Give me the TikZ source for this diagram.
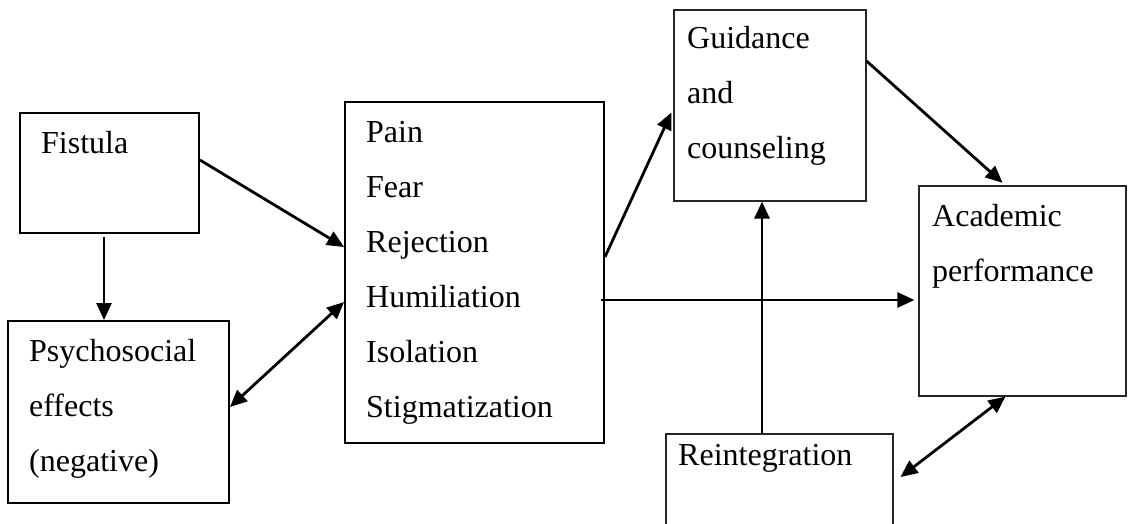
\documentclass[tikz,border=0pt]{standalone}
\usepackage{fontspec}
\setmainfont{Liberation Serif}
\usetikzlibrary{arrows.meta}
\tikzset{
	box/.style={draw=black, shape=rectangle, line width=1.9pt, inner sep=0pt},
	thinbox/.style={draw=black!85, shape=rectangle, line width=1.1pt, inner sep=0pt},
	txt/.style={text=black, anchor=base west, inner sep=0pt, align=left, font=\fontsize{32}{55}\selectfont},
	link/.style={line width=2.8pt, -{Triangle[length=17pt,width=15pt]}},
	twolink/.style={line width=2.8pt, {Triangle[length=17pt,width=15pt]}-{Triangle[length=17pt,width=15pt]}},
}
\begin{document}
\begin{tikzpicture}[x=1pt,y=-1pt]
	\clip (0,0) rectangle (1128,523);

	% boxes
	\node[box, minimum width=179pt, minimum height=120pt] (fistula) at (109.5,173) {};
	\node[box, minimum width=221pt, minimum height=182pt] (effects) at (118.5,412) {};
	\node[box, minimum width=259pt, minimum height=341pt] (feelings) at (474.5,272.5) {};
	\node[thinbox, minimum width=192pt, minimum height=191pt] (guidance) at (770,105.5) {};
	\node[thinbox, minimum width=207pt, minimum height=210pt] (academic) at (1022.5,291) {};
	\node[thinbox, minimum width=227pt, minimum height=106pt] (reinteg) at (779.5,487) {};

	% texts (placed at the baseline of their last line)
	\node[txt] (fistula_t) at (41,153) {Fistula};
	\node[txt] (effects_t) at (29,471) {Psychosocial\\effects\\(negative)};
	\node[txt] (feelings_t) at (366,417) {Pain\\Fear\\Rejection\\Humiliation\\Isolation\\Stigmatization};
	\node[txt] (guidance_t) at (687,158) {Guidance\\and\\counseling};
	\node[txt] (academic_t) at (932,281) {Academic\\performance};
	\node[txt] (reinteg_t) at (678,465) {Reintegration};

	% arrows
	\coordinate (h_start) at ([yshift=-27.5pt]feelings.east);
	\coordinate (v_start) at ([xshift=-17.5pt]reinteg.north);
	\coordinate (d_start) at ([xshift=-5.5pt]fistula.south);

	\draw[link, shorten <=3pt] (d_start) -- (d_start |- effects.north);
	\draw[link] ([yshift=13pt]fistula.east) -- ([yshift=25.5pt]feelings.west);
	\draw[twolink] ([yshift=5pt]effects.east) -- ([yshift=-29.5pt]feelings.west);
	\draw[link, shorten >=5pt] ([yshift=15.5pt]feelings.east) -- ([yshift=-2.5pt]guidance.west);
	\draw[link, shorten <=-4pt, shorten >=4pt] (h_start) -- (h_start -| academic.west);
	\draw[link] (v_start) -- (v_start |- guidance.south);
	\draw[link, shorten >=4pt] ([yshift=44.5pt]guidance.east) -- ([xshift=-17pt]academic.north);
	\draw[twolink] ([xshift=7pt,yshift=10pt]reinteg.east) -- ([xshift=-17pt]academic.south);
\end{tikzpicture}
\end{document}
